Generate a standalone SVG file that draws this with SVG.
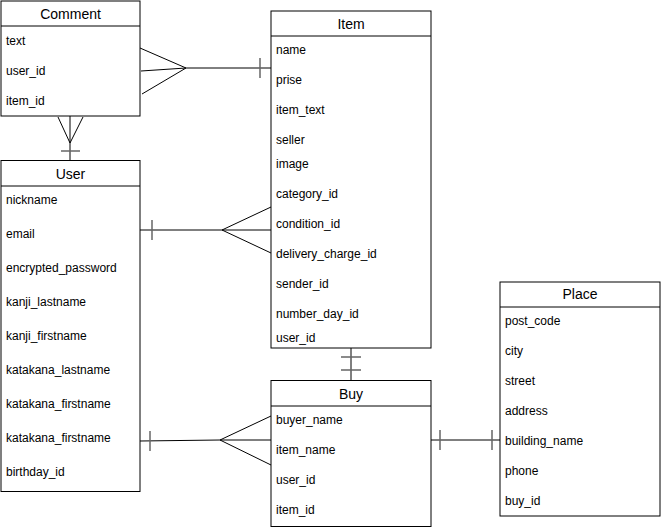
<svg xmlns="http://www.w3.org/2000/svg" width="661" height="530" viewBox="0 0 661 530">
<style>
.box{fill:#fff;stroke:#000;stroke-width:1}
.t{font-family:"Liberation Sans",Arial,sans-serif;font-size:14px;fill:#000;text-anchor:middle}
.f{font-family:"Liberation Sans",Arial,sans-serif;font-size:12px;fill:#000}
.ln{stroke:#000;stroke-width:1;fill:none}
.tk{stroke:#666;stroke-width:1.5;fill:none}
</style>
<rect width="661" height="530" fill="#fff"/>
<g id="connectors">
<path class="ln" d="M140,48 L186,68 M141,71 L186,68 M142,94 L186,68 M186,68 L271,68"/>
<path class="tk" d="M260,58 V78"/>
<path class="ln" d="M58,117 L70,143 M83,117 L70,143 M70,116 V160"/>
<path class="tk" d="M61,151 H80"/>
<path class="ln" d="M140,230 H271 M271,207 L222,230 M271,253 L222,230"/>
<path class="tk" d="M152,220 V240"/>
<path class="ln" d="M351,348 V380"/>
<path class="tk" d="M341,357 H361 M341,370 H361"/>
<path class="ln" d="M140,441 L220,440 H271 M271,416 L220,440 M271,465 L220,440"/>
<path class="tk" d="M150,431 V451"/>
<path class="ln" d="M431,440 H500"/>
<path class="tk" d="M440,430 V450 M492,430 V450"/>
</g>
<g id="comment">
<rect class="box" x="1" y="1" width="139" height="115"/>
<line class="ln" x1="1" y1="26" x2="140" y2="26"/>
<text class="t" x="70.5" y="19">Comment</text>
<text class="f" x="6" y="45">text</text>
<text class="f" x="6" y="75">user_id</text>
<text class="f" x="6" y="105">item_id</text>
</g>
<g id="item">
<rect class="box" x="271" y="11" width="160" height="337"/>
<line class="ln" x1="271" y1="36" x2="431" y2="36"/>
<text class="t" x="351" y="29">Item</text>
<text class="f" x="276" y="54">name</text>
<text class="f" x="276" y="84">prise</text>
<text class="f" x="276" y="114">item_text</text>
<text class="f" x="276" y="144">seller</text>
<text class="f" x="276" y="168">image</text>
<text class="f" x="276" y="198">category_id</text>
<text class="f" x="276" y="228">condition_id</text>
<text class="f" x="276" y="258">delivery_charge_id</text>
<text class="f" x="276" y="288">sender_id</text>
<text class="f" x="276" y="318">number_day_id</text>
<text class="f" x="276" y="342">user_id</text>
</g>
<g id="user">
<rect class="box" x="1" y="160.5" width="139" height="331"/>
<line class="ln" x1="1" y1="186" x2="140" y2="186"/>
<text class="t" x="70.5" y="179">User</text>
<text class="f" x="6" y="204">nickname</text>
<text class="f" x="6" y="238">email</text>
<text class="f" x="6" y="272">encrypted_password</text>
<text class="f" x="6" y="306">kanji_lastname</text>
<text class="f" x="6" y="340">kanji_firstname</text>
<text class="f" x="6" y="374">katakana_lastname</text>
<text class="f" x="6" y="408">katakana_firstname</text>
<text class="f" x="6" y="442">katakana_firstname</text>
<text class="f" x="6" y="476">birthday_id</text>
</g>
<g id="buy">
<rect class="box" x="271" y="380.5" width="160" height="146"/>
<line class="ln" x1="271" y1="406" x2="431" y2="406"/>
<text class="t" x="351" y="399">Buy</text>
<text class="f" x="276" y="424">buyer_name</text>
<text class="f" x="276" y="454">item_name</text>
<text class="f" x="276" y="484">user_id</text>
<text class="f" x="276" y="514">item_id</text>
</g>
<g id="place">
<rect class="box" x="500" y="282" width="160" height="234"/>
<line class="ln" x1="500" y1="307" x2="660" y2="307"/>
<text class="t" x="580" y="299">Place</text>
<text class="f" x="505" y="325">post_code</text>
<text class="f" x="505" y="355">city</text>
<text class="f" x="505" y="385">street</text>
<text class="f" x="505" y="415">address</text>
<text class="f" x="505" y="445">building_name</text>
<text class="f" x="505" y="475">phone</text>
<text class="f" x="505" y="505">buy_id</text>
</g>
</svg>
